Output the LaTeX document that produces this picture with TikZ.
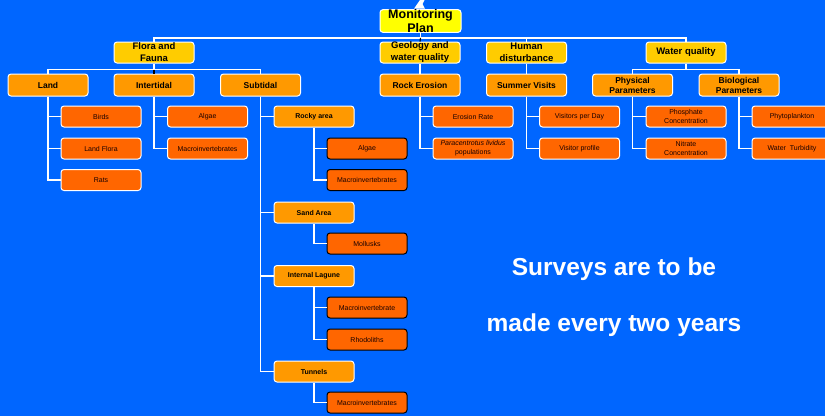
\documentclass[tikz,border=0pt]{standalone}
\usepackage{fontspec}
\setmainfont{Liberation Sans}
\definecolor{bg}{HTML}{0066FF}
\definecolor{cyel}{HTML}{FFFF00}
\definecolor{cgold}{HTML}{FFCC00}
\definecolor{corange}{HTML}{FF9900}
\definecolor{cleaf}{HTML}{FF6600}
\tikzset{
  box/.style={draw=white, line width=1pt, rounded corners=3pt, minimum width=80pt,
    inner sep=0pt, align=center, text=black},
  lvlzero/.style={box, fill=cyel, minimum width=81pt, minimum height=22pt, font=\fontsize{12.5}{13.5}\selectfont\bfseries},
  lvlone/.style={box, fill=cgold, minimum height=21pt, font=\fontsize{9.5}{12}\selectfont\bfseries},
  lvltwo/.style={box, fill=corange, minimum height=22pt, font=\fontsize{8.5}{10}\selectfont\bfseries},
  lvlthree/.style={box, fill=corange, minimum height=21pt, font=\fontsize{7}{8}\selectfont\bfseries},
  leaf/.style={box, fill=cleaf, minimum height=21pt, text=black!90!red, font=\fontsize{7}{9}\selectfont},
  leafdark/.style={leaf, draw=black},
  conn/.style={white, line width=1.6pt},
  darkconn/.style={black, line width=1.1pt},
  bigtext/.style={text=white, font=\fontsize{24.5}{28}\selectfont\bfseries, anchor=base}
}
\begin{document}
\begin{tikzpicture}[x=1pt, y=-1pt]
\useasboundingbox (0,0) rectangle (825,416);
\fill[bg] (0,0) rectangle (825,416);
\fill[white] (414,8.7) -- (420,0) -- (424.5,0) -- (422.5,4) -- (425,8.7) -- cycle;

% level 0 and 1
\node[lvlzero] (mp) at (420.5,21) {Monitoring\\Plan};
\node[lvlone] (ff) at (154,52.5) {Flora and\\Fauna};
\node[lvlone] (geo) at (420,52.5) {Geology and\\water quality};
\node[lvlone] (hd) at (526.5,52.5) {Human\\disturbance};
\node[lvlone] (wq) at (686,52.5) {Water quality};

% level 2
\node[lvltwo] (land) at (48,85) {Land};
\node[lvltwo] (inter) at (154,85) {Intertidal};
\node[lvltwo] (sub) at (260.5,85) {Subtidal};
\node[lvltwo] (rock) at (420,85) {Rock Erosion};
\node[lvltwo] (summer) at (526.5,85) {Summer Visits};
\node[lvltwo] (phys) at (632.5,85) {Physical\\Parameters};
\node[lvltwo] (bio) at (739,85) {Biological\\Parameters};

% leaves
\node[leaf] (birds) at (101,116.5) {Birds};
\node[leaf] (landflora) at (101,148.5) {Land Flora};
\node[leaf] (rats) at (101,180) {Rats};
\node[leaf] (algaeone) at (207.5,116.5) {Algae};
\node[leaf] (macroone) at (207.5,148.5) {Macroinvertebrates};

\node[lvlthree] (rocky) at (314,116.5) {Rocky area};
\node[leafdark] (algaetwo) at (367,148.5) {Algae};
\node[leafdark] (macrotwo) at (367,180) {Macroinvertebrates};
\node[lvlthree] (sand) at (314,212.5) {Sand Area};
\node[leafdark] (mollusks) at (367,243.5) {Mollusks};
\node[lvlthree] (lagune) at (314,276) {Internal Lagune};
\node[leafdark] (macrothree) at (367,307.5) {Macroinvertebrate};
\node[leafdark] (rhodo) at (367,339.5) {Rhodoliths};
\node[lvlthree] (tunnels) at (314,371.5) {Tunnels};
\node[leafdark] (macrofour) at (367,402.5) {Macroinvertebrates};

\node[leaf] (erosion) at (473,116.5) {Erosion Rate};
\node[leaf] (para) at (473,148.5) {\itshape Paracentrotus lividus\\populations};
\node[leaf] (vpd) at (579.5,116.5) {Visitors per Day};
\node[leaf] (vprof) at (579.5,148.5) {Visitor profile};
\node[leaf] (phos) at (686,116.5) {Phosphate\\Concentration};
\node[leaf] (nitr) at (686,148.5) {Nitrate\\Concentration};
\node[leaf] (phyto) at (792,116.5) {Phytoplankton};
\node[leaf] (turb) at (792,148.5) {Water\ \ Turbidity};

% connectors
\draw[conn] (mp.south) -- ++(0,5) -| (ff.north);
\draw[conn] (mp.south) -- ++(0,5) -| (hd.north);
\draw[conn] (mp.south) -- ++(0,5) -| (wq.north);
\draw[darkconn] ([yshift=-5pt]mp.south) -- (geo.north);

\draw[conn] (ff.south) -- ++(0,6) -| (land.north);
\draw[conn] (ff.south) -- ++(0,6) -| (sub.north);
\draw[conn] (ff.south) -- ++(0,6);
\draw[darkconn] ([yshift=-6pt]ff.south) -- (inter.north);
\draw[conn] (geo.south) -- (rock.north);
\draw[conn] (hd.south) -- (summer.north);
\draw[conn] (wq.south) -- ++(0,6) -| (phys.north);
\draw[conn] (wq.south) -- ++(0,6) -| (bio.north);

\draw[conn] (land.south) |- (birds.west);
\draw[conn] (land.south) |- (landflora.west);
\draw[conn] (land.south) |- (rats.west);
\draw[conn] (inter.south) |- (algaeone.west);
\draw[conn] (inter.south) |- (macroone.west);
\draw[conn] (sub.south) |- (rocky.west);
\draw[conn] (sub.south) |- (sand.west);
\draw[conn] (sub.south) |- (lagune.west);
\draw[conn] (sub.south) |- (tunnels.west);
\draw[conn] (rocky.south) |- (algaetwo.west);
\draw[conn] (rocky.south) |- (macrotwo.west);
\draw[conn] (sand.south) |- (mollusks.west);
\draw[conn] (lagune.south) |- (macrothree.west);
\draw[conn] (lagune.south) |- (rhodo.west);
\draw[conn] (tunnels.south) |- (macrofour.west);
\draw[conn] (rock.south) |- (erosion.west);
\draw[conn] (rock.south) |- (para.west);
\draw[conn] (summer.south) |- (vpd.west);
\draw[conn] (summer.south) |- (vprof.west);
\draw[conn] (phys.south) |- (phos.west);
\draw[conn] (phys.south) |- (nitr.west);
\draw[conn] (bio.south) |- (phyto.west);
\draw[conn] (bio.south) |- (turb.west);

\node[bigtext] (surveys) at (614,275) {Surveys are to be};
\node[bigtext] (made) at (614,331) {made every two years};
\end{tikzpicture}
\end{document}
